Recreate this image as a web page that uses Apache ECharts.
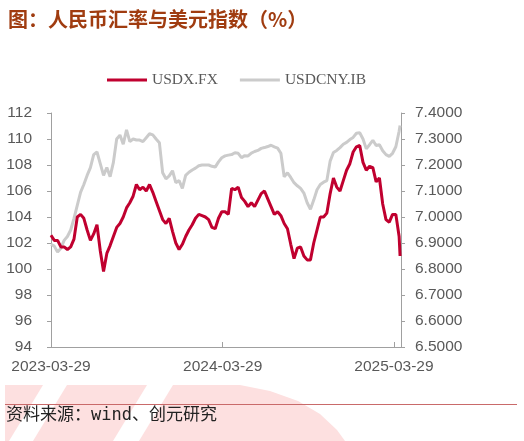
<!DOCTYPE html>
<html>
<head>
<meta charset="utf-8">
<script src="https://cdn.jsdelivr.net/npm/echarts@6/dist/echarts.min.js"></script>
<style>
html,body{margin:0;padding:0;background:#fff;}
#chart{width:524px;height:441px;}
</style>
</head>
<body>
<div id="chart"></div>
<script>
// ---- data ----
const titleText = '图：人民币汇率与美元指数（%）';
const sourceText = '资料来源：wind、创元研究';
const seriesNames = ['USDX.FX', 'USDCNY.IB'];
const startDate = '2023-03-29';
const weeklyCount = 107;          // weekly observations from startDate
const lastDate = '2025-04-11';    // final observation
const xTickLabels = ['2023-03-29', '2024-03-29', '2025-03-29'];
const leftTicks = {min: 94, max: 112, interval: 2};
const rightTicks = {min: 6.5, max: 7.4, interval: 0.1};

const usdx = [
  102.6,102.2,102.2,101.7,101.7,101.5,101.7,102.3,104.0,104.2,
  103.9,103.0,102.2,102.7,103.4,101.4,99.8,101.2,101.8,102.5,
  103.2,103.5,104.0,104.7,105.1,105.6,106.5,106.1,106.3,106.0,
  106.5,105.9,105.2,104.5,103.8,103.5,103.9,102.9,102.0,101.5,
  101.9,102.5,103.0,103.4,103.9,104.2,104.1,104.0,103.8,103.2,
  103.1,103.9,104.4,104.4,104.2,106.2,106.1,106.3,105.5,105.2,
  104.8,105.1,104.8,105.3,105.8,106.0,105.4,104.8,104.2,104.4,
  104.1,103.5,103.1,101.9,100.8,101.6,101.7,101.0,100.7,100.7,
  102.0,103.0,104.0,104.0,104.3,105.8,107.0,106.3,106.0,106.8,
  107.6,108.1,109.0,109.4,109.5,108.2,107.6,107.9,107.8,106.7,
  107.0,105.0,103.8,103.6,104.2,104.2,102.5,101.0
];
const usdcny = [
  6.895,6.888,6.865,6.880,6.910,6.925,6.950,6.995,7.045,7.095,
  7.125,7.160,7.190,7.240,7.250,7.205,7.160,7.190,7.155,7.210,
  7.300,7.315,7.280,7.335,7.290,7.300,7.296,7.296,7.290,7.305,
  7.320,7.316,7.300,7.286,7.170,7.147,7.158,7.178,7.132,7.140,
  7.110,7.160,7.172,7.181,7.188,7.197,7.200,7.200,7.200,7.195,
  7.192,7.212,7.228,7.235,7.238,7.240,7.247,7.245,7.228,7.236,
  7.235,7.246,7.252,7.256,7.264,7.267,7.271,7.276,7.270,7.265,
  7.245,7.155,7.170,7.152,7.132,7.120,7.110,7.092,7.055,7.030,
  7.065,7.105,7.125,7.134,7.140,7.215,7.248,7.256,7.267,7.280,
  7.287,7.298,7.306,7.322,7.324,7.300,7.262,7.278,7.295,7.275,
  7.278,7.255,7.240,7.233,7.245,7.270,7.330,7.352
];

// ---- helpers ----
const DAY = 86400000;
function ts(s){ const p = s.split('-').map(Number); return Date.UTC(p[0], p[1]-1, p[2]); }
function fmt(t){ const d = new Date(t); const p = n => (n<10?'0':'')+n; return d.getUTCFullYear()+'-'+p(d.getUTCMonth()+1)+'-'+p(d.getUTCDate()); }
const t0 = ts(startDate);
const dates = [];
for (let i = 0; i < weeklyCount; i++) dates.push(fmt(t0 + 7*i*DAY));
dates.push(lastDate);
const dayOf = s => Math.round((ts(s) - t0) / DAY);
const tickDays = xTickLabels.map(dayOf);
const xMaxDay = 746;

const axisColor = '#a0a0a0';
const labelColor = '#595959';
const sansFont = 'Liberation Sans, Arial, sans-serif';

const chart = echarts.init(document.getElementById('chart'), null, {renderer: 'canvas'});
chart.setOption({
  animation: false,
  backgroundColor: '#fff',
  title: {
    text: titleText, left: 3, top: 4,
    textStyle: {fontSize: 20, fontWeight: 'bold', color: '#a03c10', fontFamily: 'Noto Sans CJK SC'}
  },
  legend: {
    data: seriesNames, left: 102, top: 67, itemWidth: 40, itemHeight: 3, itemGap: 22,
    icon: 'rect',
    textStyle: {fontFamily: 'Liberation Serif, Times New Roman, serif', fontSize: 15.5, color: labelColor}
  },
  grid: {left: 51, right: 123, top: 113, bottom: 94, containLabel: false},
  xAxis: {
    type: 'value', min: 0, max: xMaxDay,
    axisLine: {show: true, lineStyle: {color: axisColor, width: 1}},
    axisTick: {show: true, inside: true, length: 5, lineStyle: {color: axisColor}, customValues: tickDays},
    axisLabel: {customValues: tickDays, formatter: v => fmt(t0 + Math.round(v)*DAY), color: labelColor, fontSize: 15.5, fontFamily: sansFont, margin: 12, hideOverlap: false},
    splitLine: {show: false}
  },
  yAxis: [
    {
      type: 'value', min: leftTicks.min, max: leftTicks.max, interval: leftTicks.interval,
      axisLine: {show: true, lineStyle: {color: axisColor}},
      axisTick: {show: true, length: 4, lineStyle: {color: axisColor}},
      axisLabel: {color: labelColor, fontSize: 15.5, fontFamily: sansFont, margin: 19},
      splitLine: {show: false}
    },
    {
      type: 'value', position: 'right', min: rightTicks.min, max: rightTicks.max, interval: rightTicks.interval,
      axisLine: {show: true, lineStyle: {color: axisColor}},
      axisTick: {show: true, length: 4, lineStyle: {color: axisColor}},
      axisLabel: {color: labelColor, fontSize: 15.5, fontFamily: sansFont, margin: 14, formatter: v => v.toFixed(4)},
      splitLine: {show: false}
    }
  ],
  series: [
    {
      name: seriesNames[1], type: 'line', yAxisIndex: 1, showSymbol: false, symbol: 'none',
      data: dates.map((d, i) => [dayOf(d), usdcny[i]]),
      lineStyle: {color: '#cbcbcb', width: 3}, itemStyle: {color: '#cbcbcb'}
    },
    {
      name: seriesNames[0], type: 'line', yAxisIndex: 0, showSymbol: false, symbol: 'none',
      data: dates.map((d, i) => [dayOf(d), usdx[i]]),
      lineStyle: {color: '#c0002f', width: 3}, itemStyle: {color: '#c0002f'}
    }
  ],
  graphic: [
    {type: 'polygon', z: 0, silent: true, shape: {points: [[5,385],[43,385],[9,441],[5,441]]}, style: {fill: '#fde0e0'}},
    {type: 'polygon', z: 0, silent: true, shape: {points: [[67,385],[147,385],[113,441],[33,441]]}, style: {fill: '#fde0e0'}},
    {type: 'polygon', z: 0, silent: true, shape: {points: [[173,385],[240,385],[270,391],[298,401],[320,414],[337,430],[345,441],[139,441]]}, style: {fill: '#fde0e0'}},
    {type: 'line', z: 1, silent: true, shape: {x1: 5, y1: 404.5, x2: 517, y2: 404.5}, style: {stroke: '#c96a6a', lineWidth: 1}},
    {type: 'text', z: 2, silent: true, left: 6, top: 407, style: {text: sourceText, fill: '#222', fontSize: 17, fontFamily: 'DejaVu Sans Mono, Noto Sans CJK SC, monospace'}}
  ]
});
</script>
</body>
</html>
